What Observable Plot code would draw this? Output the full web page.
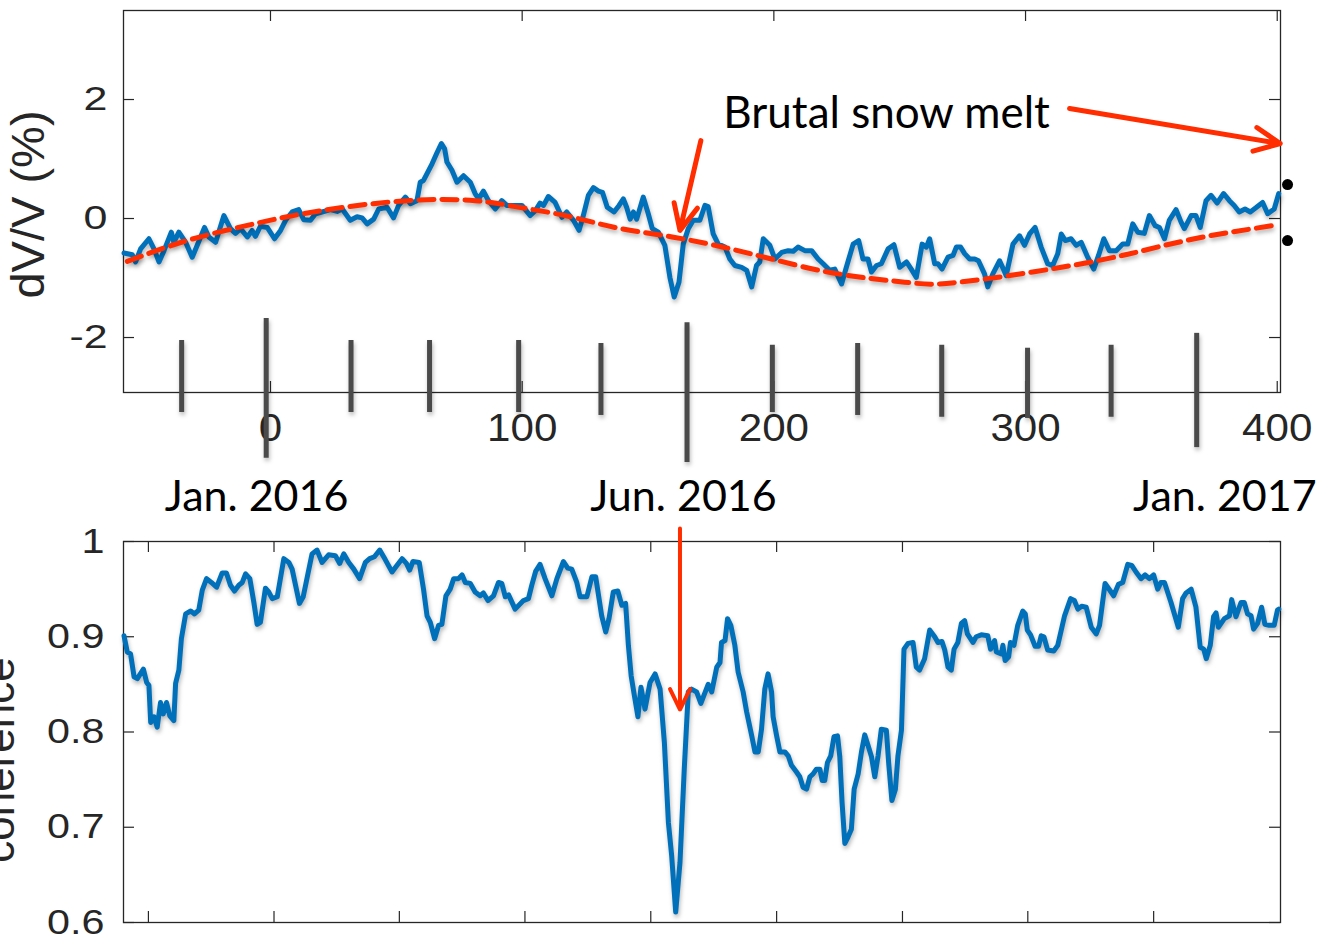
<!DOCTYPE html>
<html>
<head>
<meta charset="utf-8">
<script src="https://cdn.jsdelivr.net/npm/d3@7"></script>
<script src="https://cdn.jsdelivr.net/npm/@observablehq/plot@0.6"></script>
<style>
  body { margin: 0; background: #ffffff; }
  #chart { width: 1318px; height: 935px; overflow: hidden; position: relative; }
  #chart svg { display: block; }
</style>
</head>
<body>
<div id="chart"></div>
<script>
// ---------- top panel: dV/V (%) ----------
const dvvDay = [-58.2,-54.9,-53.6,-51.6,-48.3,-46.3,-44.3,-42.3,-39.4,-38.4,-36.4,-33.7,-31.1,-29.1,-26.2,-24.5,-21.8,-18.5,-15.9,-13.9,-11.9,-9.2,-7.3,-6.0,-4.0,-1.3,1.6,4.0,6.0,8.6,11.2,13.2,15.9,17.9,20.5,23.8,26.5,28.5,31.7,34.4,36.4,38.4,41.0,43.0,46.3,48.9,50.9,53.6,55.6,58.2,59.5,60.8,64.2,66.2,67.9,69.2,70.1,72.1,74.1,76.7,79.4,81.3,82.7,84.6,86.6,89.3,91.9,93.9,97.2,99.9,103.2,105.2,107.1,108.5,110.4,113.1,115.8,117.7,120.4,122.6,124.3,126.3,128.3,130.3,131.9,133.8,136.5,138.5,140.2,141.5,142.9,144.2,145.5,148.1,150.1,151.7,154.1,156.7,158.7,160.4,162.3,164.0,166.0,168.0,170.6,172.6,173.9,175.9,177.9,180.6,182.5,184.5,187.2,189.2,191.2,193.1,194.4,195.8,198.4,200.4,203.1,205.7,207.7,209.6,212.3,215.0,217.6,219.6,222.2,224.2,226.9,228.8,231.5,233.7,235.4,237.4,238.8,240.8,242.7,245.4,247.7,250.0,252.7,254.6,256.6,258.9,260.6,261.9,263.9,265.2,266.8,269.2,271.2,272.5,274.2,275.8,277.8,279.8,281.3,283.7,285.0,287.0,289.7,291.7,292.3,295.0,297.6,299.6,301.6,303.8,306.2,308.8,310.8,312.8,314.2,315.8,318.1,320.1,322.1,324.7,327.1,329.0,331.1,333.3,336.0,338.6,340.6,342.6,344.6,347.2,349.2,351.5,353.2,355.2,357.1,359.8,361.8,363.1,365.8,367.7,369.4,371.7,373.7,376.1,378.7,381.0,382.9,384.9,387.2,389.3,391.5,394.2,396.2,398.8,400.6];
const dvvPct = [-0.58,-0.61,-0.73,-0.51,-0.34,-0.51,-0.73,-0.54,-0.23,-0.40,-0.23,-0.40,-0.65,-0.45,-0.15,-0.31,-0.40,0.05,-0.17,-0.25,-0.17,-0.31,-0.20,-0.30,-0.13,-0.15,-0.34,-0.20,-0.03,0.11,0.15,-0.02,-0.03,0.08,0.11,0.15,0.12,0.16,-0.03,0.03,0.01,-0.09,-0.01,0.16,0.19,0.01,0.22,0.36,0.25,0.30,0.61,0.64,0.92,1.11,1.26,1.17,0.95,0.81,0.61,0.72,0.61,0.42,0.33,0.46,0.30,0.16,0.30,0.22,0.22,0.22,0.05,0.13,0.26,0.22,0.37,0.27,0.02,0.11,-0.03,-0.20,0.05,0.39,0.52,0.46,0.44,0.19,0.11,0.22,0.33,0.19,-0.01,0.11,-0.01,0.36,0.08,-0.17,-0.23,-0.45,-0.99,-1.32,-1.07,-0.43,-0.17,-0.03,-0.03,0.22,0.20,-0.26,-0.43,-0.48,-0.68,-0.79,-0.82,-0.87,-1.15,-0.79,-0.73,-0.34,-0.45,-0.68,-0.57,-0.54,-0.55,-0.48,-0.54,-0.54,-0.68,-0.76,-0.87,-0.85,-1.10,-0.82,-0.43,-0.37,-0.68,-0.68,-0.90,-0.79,-0.76,-0.51,-0.44,-0.82,-0.73,-0.85,-0.99,-0.43,-0.48,-0.34,-0.76,-0.76,-0.85,-0.65,-0.62,-0.48,-0.48,-0.59,-0.68,-0.68,-0.71,-0.93,-1.15,-0.93,-0.71,-0.90,-0.96,-0.43,-0.29,-0.45,-0.26,-0.15,-0.48,-0.76,-0.79,-0.59,-0.26,-0.37,-0.34,-0.45,-0.40,-0.65,-0.85,-0.62,-0.34,-0.54,-0.54,-0.43,-0.43,-0.09,-0.23,-0.25,0.05,-0.12,-0.15,-0.34,-0.03,0.15,-0.06,-0.17,0.05,0.05,-0.15,0.30,0.39,0.26,0.42,0.30,0.22,0.11,0.16,0.11,0.18,0.27,0.08,0.16,0.42];

// seasonal fit (red dashed)
const fitDay = [-56.9,-33.1,-6.6,19.8,54.2,81.3,97.2,117.1,136.9,156.7,176.6,199.1,225.5,252.0,265.2,285.0,314.2,340.6,367.1,398.1];
const fitPct = [-0.72,-0.37,-0.09,0.13,0.30,0.30,0.20,0.05,-0.15,-0.29,-0.45,-0.68,-0.93,-1.07,-1.10,-1.01,-0.82,-0.60,-0.34,-0.12];

// month marker bars (gray), long bars = Jan 2016, Jun 2016, Jan 2017
const monthDay    = [-35.3,-1.7,32.0,63.2,98.6,131.3,165.5,199.4,233.3,266.7,300.8,334.0,368.0];
const monthTop    = [-2.05,-1.68,-2.05,-2.05,-2.05,-2.10,-1.75,-2.13,-2.10,-2.13,-2.18,-2.13,-1.93];
const monthBottom = [-3.26,-4.03,-3.26,-3.26,-3.26,-3.31,-4.10,-3.26,-3.31,-3.34,-3.36,-3.34,-3.85];

// black dots at the right edge
const dotDay = [404.1, 404.1];
const dotPct = [0.57, -0.37];

// axis ticks
const xTicksTop = [0, 100, 200, 300, 400];
const yTicksTop = [-2, 0, 2];

// annotations (top)
const noteText = ["Brutal snow melt"];
const noteDay = [244.8];
const notePct = [1.76];
const arrowTop = [
  {x1: 317.5, y1: 1.85, x2: 401.2, y2: 1.26},
  {x1: 171.0, y1: 1.31, x2: 162.7, y2: -0.20}
];

// ---------- bottom panel: coherence ----------
const cohDay = [-58.2,-56.9,-55.6,-54.2,-52.9,-50.5,-49.2,-48.3,-47.6,-46.3,-45.0,-43.7,-42.6,-41.3,-40.0,-38.4,-37.7,-36.4,-35.4,-33.7,-31.7,-30.2,-28.5,-27.1,-25.4,-23.5,-21.4,-19.2,-17.5,-15.9,-14.3,-12.6,-11.2,-9.9,-8.2,-6.6,-5.3,-4.0,-2.0,-0.7,0.7,2.7,5.3,7.3,8.6,11.5,13.0,16.5,18.5,20.5,23.1,25.8,27.5,29.1,31.1,33.1,35.4,37.7,39.4,41.3,43.4,45.6,48.3,50.3,52.3,54.0,55.3,56.6,59.1,60.8,62.2,63.5,65.2,66.8,68.1,69.7,71.4,72.8,74.7,76.1,77.4,79.4,81.3,83.3,84.6,86.4,88.6,90.6,91.9,93.3,94.6,97.2,100.5,102.5,103.8,105.4,107.1,109.1,111.8,113.8,116.4,118.1,119.7,121.7,123.0,125.7,127.7,129.2,131.6,133.2,134.5,136.2,138.0,139.6,141.1,142.2,143.3,144.6,146.0,147.2,148.8,150.8,152.8,154.8,156.5,158.1,159.4,161.0,162.7,164.4,166.0,167.3,169.3,171.0,173.9,175.3,177.3,178.6,179.2,180.6,181.6,182.9,184.5,185.8,187.8,189.2,191.2,192.5,193.8,195.1,196.4,197.7,199.1,199.7,201.1,202.4,204.4,205.7,207.0,209.0,210.3,211.6,213.0,214.3,215.6,216.9,218.3,219.2,220.2,221.3,222.6,223.9,225.3,226.2,227.1,228.2,229.5,230.8,231.9,233.5,234.8,236.1,237.4,238.8,240.1,241.4,242.7,244.7,245.6,246.9,248.3,249.3,250.7,251.7,253.3,255.3,256.6,257.9,259.9,261.9,263.9,265.2,266.8,267.9,269.2,270.5,271.6,273.1,274.5,275.8,276.9,279.1,280.4,282.4,285.0,286.1,287.7,288.4,290.4,291.0,291.9,293.3,294.0,295.4,296.9,298.9,299.9,300.7,302.0,303.8,305.2,306.2,307.3,308.8,311.2,312.8,315.5,317.9,319.4,320.8,322.3,324.1,326.1,328.1,329.4,331.6,333.7,335.0,336.9,338.6,340.6,342.2,343.9,345.9,347.5,349.2,350.9,352.5,353.8,355.2,357.8,360.7,362.4,363.8,365.8,367.7,369.4,370.8,371.8,373.4,374.7,375.7,376.6,379.0,381.0,381.9,383.6,385.6,386.9,388.2,389.6,390.6,392.2,393.8,395.1,396.8,398.8,400.1,400.6];
const cohValue = [0.901,0.884,0.882,0.858,0.856,0.866,0.852,0.849,0.810,0.816,0.805,0.831,0.819,0.831,0.817,0.812,0.851,0.865,0.898,0.924,0.927,0.924,0.928,0.949,0.961,0.957,0.952,0.967,0.967,0.954,0.948,0.954,0.957,0.966,0.961,0.936,0.913,0.915,0.951,0.947,0.940,0.942,0.982,0.978,0.971,0.935,0.942,0.987,0.991,0.978,0.986,0.985,0.977,0.987,0.978,0.971,0.961,0.978,0.982,0.984,0.991,0.981,0.968,0.975,0.982,0.977,0.970,0.979,0.978,0.950,0.922,0.915,0.898,0.912,0.913,0.943,0.950,0.961,0.961,0.965,0.957,0.956,0.947,0.943,0.946,0.938,0.943,0.957,0.956,0.942,0.944,0.929,0.938,0.940,0.954,0.969,0.976,0.961,0.943,0.961,0.979,0.972,0.971,0.957,0.942,0.942,0.963,0.963,0.922,0.905,0.919,0.947,0.948,0.933,0.935,0.891,0.859,0.838,0.816,0.847,0.824,0.852,0.861,0.845,0.789,0.705,0.670,0.611,0.663,0.761,0.842,0.845,0.842,0.830,0.850,0.842,0.868,0.873,0.894,0.896,0.919,0.912,0.891,0.863,0.842,0.821,0.796,0.779,0.779,0.803,0.845,0.861,0.842,0.816,0.796,0.779,0.779,0.775,0.765,0.758,0.753,0.742,0.740,0.753,0.756,0.761,0.761,0.749,0.749,0.768,0.775,0.795,0.796,0.774,0.726,0.683,0.690,0.698,0.740,0.756,0.779,0.797,0.786,0.774,0.753,0.775,0.803,0.802,0.768,0.728,0.740,0.775,0.802,0.887,0.893,0.894,0.868,0.865,0.877,0.907,0.900,0.894,0.895,0.886,0.868,0.865,0.887,0.894,0.914,0.917,0.903,0.894,0.900,0.902,0.901,0.887,0.896,0.884,0.882,0.891,0.875,0.879,0.894,0.891,0.912,0.927,0.924,0.907,0.902,0.890,0.890,0.901,0.900,0.886,0.885,0.891,0.922,0.940,0.938,0.929,0.932,0.931,0.910,0.903,0.912,0.956,0.948,0.943,0.955,0.957,0.976,0.975,0.968,0.961,0.965,0.961,0.965,0.950,0.957,0.957,0.936,0.910,0.940,0.946,0.950,0.931,0.889,0.887,0.877,0.891,0.921,0.925,0.910,0.919,0.922,0.939,0.921,0.936,0.936,0.924,0.922,0.908,0.914,0.931,0.913,0.912,0.912,0.928,0.929];

const xTicksBottom = [-48.5, 1.4, 51.2, 101.1, 151.1, 201.1, 251.1, 300.9, 350.9];
const yTicksBottom = [0.6, 0.7, 0.8, 0.9, 1];

// date labels between panels and the bottom arrow
const dateText = ["Jan. 2016", "Jun. 2016", "Jan. 2017"];
const dateDay = [-5.5, 164.1, 379.2];
const dateLevel = [1.046, 1.046, 1.046];
const arrowBottom = [{x1: 162.7, y1: 1.0136, x2: 162.7, y2: 0.8236}];

// ---------- build ----------
const W = 1318, ML = 123, MR = 38;
const xDomain = [-58.4, 401.3];
const BLUE = "#0070BA", RED = "#FF2D00", AXIS = "#262626", BAR = "#4a4a4a";
const SANS = "'Liberation Sans', Arial, Helvetica, sans-serif";
const NOTE = "Lato, 'Open Sans', sans-serif";

const dvv = dvvDay.map((d, i) => ({day: d, v: dvvPct[i]}));
const fit = fitDay.map((d, i) => ({day: d, v: fitPct[i]}));
const months = monthDay.map((d, i) => ({day: d, y1: monthTop[i], y2: monthBottom[i]}));
const dots = dotDay.map((d, i) => ({day: d, v: dotPct[i]}));
const notes = noteText.map((t, i) => ({t, day: noteDay[i], v: notePct[i]}));
const coh = cohDay.map((d, i) => ({day: d, v: cohValue[i]}));
const dates = dateText.map((t, i) => ({t, day: dateDay[i], v: dateLevel[i]}));

const H1 = 470, MT1 = 10, MB1 = 78;
const fh1 = H1 - MT1 - MB1, fw = W - ML - MR;

const topPlot = Plot.plot({
  width: W, height: H1, marginLeft: ML, marginRight: MR, marginTop: MT1, marginBottom: MB1,
  x: {domain: xDomain},
  y: {domain: [-2.924, 3.496]},
  style: {fontFamily: SANS, background: "transparent", overflow: "visible", color: AXIS},
  marks: [
    Plot.frame({stroke: AXIS, strokeWidth: 1.3}),
    Plot.ruleY(yTicksTop, {insetRight: fw - 11, stroke: AXIS, strokeWidth: 1.2}),
    Plot.ruleY(yTicksTop, {insetLeft: fw - 11, stroke: AXIS, strokeWidth: 1.2}),
    Plot.ruleX(xTicksTop, {insetBottom: fh1 - 11, stroke: AXIS, strokeWidth: 1.2}),
    Plot.ruleX(xTicksTop, {insetTop: fh1 - 11, stroke: AXIS, strokeWidth: 1.2}),
    Plot.axisY({ticks: yTicksTop, tickSize: 0, tickPadding: 16, fontSize: 33, label: null, tickFormat: d => String(d), fill: AXIS}),
    Plot.axisX({ticks: xTicksTop, tickSize: 0, tickPadding: 21, fontSize: 39, label: null, tickFormat: d => String(d), fill: AXIS}),
    Plot.text(["dV/V (%)"], {frameAnchor: "left", textAnchor: "middle", lineAnchor: "middle", dx: -95, dy: 3, rotate: -90, fontSize: 47, fill: AXIS}),
    Plot.line(dvv, {x: "day", y: "v", stroke: BLUE, strokeWidth: 5, strokeLinejoin: "round"}),
    Plot.line(fit, {x: "day", y: "v", stroke: RED, strokeWidth: 5, strokeDasharray: "15,8", curve: "natural"}),
    Plot.ruleX(months, {x: "day", y1: "y1", y2: "y2", stroke: BAR, strokeWidth: 5}),
    Plot.dot(dots, {x: "day", y: "v", r: 5.5, fill: "black", stroke: "none"}),
    Plot.text(notes, {x: "day", y: "v", text: "t", fontSize: 44, fontFamily: NOTE, fill: "black"}),
    Plot.arrow(arrowTop, {x1: "x1", y1: "y1", x2: "x2", y2: "y2", stroke: RED, strokeWidth: 5, headAngle: 50, headLength: 8.5})
  ]
});

const H2 = 465, MT2 = 71, MB2 = 13;
const fh2 = H2 - MT2 - MB2;

const bottomPlot = Plot.plot({
  width: W, height: H2, marginLeft: ML, marginRight: MR, marginTop: MT2, marginBottom: MB2,
  x: {domain: xDomain, axis: null},
  y: {domain: [0.6, 1]},
  style: {fontFamily: SANS, background: "transparent", overflow: "visible", color: AXIS},
  marks: [
    Plot.frame({stroke: AXIS, strokeWidth: 1.3}),
    Plot.ruleY(yTicksBottom, {insetRight: fw - 11, stroke: AXIS, strokeWidth: 1.2}),
    Plot.ruleY(yTicksBottom, {insetLeft: fw - 11, stroke: AXIS, strokeWidth: 1.2}),
    Plot.ruleX(xTicksBottom, {insetBottom: fh2 - 11, stroke: AXIS, strokeWidth: 1.2}),
    Plot.ruleX(xTicksBottom, {insetTop: fh2 - 11, stroke: AXIS, strokeWidth: 1.2}),
    Plot.axisY({ticks: yTicksBottom, tickSize: 0, tickPadding: 19, fontSize: 35, label: null, tickFormat: d => String(d), fill: AXIS}),
    Plot.text(["coherence"], {frameAnchor: "left", textAnchor: "middle", lineAnchor: "middle", dx: -124, dy: 28, rotate: -90, fontSize: 44, fill: AXIS}),
    Plot.line(coh, {x: "day", y: "v", stroke: BLUE, strokeWidth: 5, strokeLinejoin: "round"}),
    Plot.text(dates, {x: "day", y: "v", text: "t", fontSize: 43, fontFamily: NOTE, fill: "black"}),
    Plot.arrow(arrowBottom, {x1: "x1", y1: "y1", x2: "x2", y2: "y2", stroke: RED, strokeWidth: 4, headAngle: 52, headLength: 8.5})
  ]
});

const chart = document.getElementById("chart");
chart.append(topPlot, bottomPlot);

// the original MATLAB figure is stretched horizontally: widen the tick labels
function stretch(svg, label, k) {
  svg.querySelectorAll(`g[aria-label="${label}"] text`).forEach(t => {
    const L = t.getComputedTextLength();
    if (L > 0) {
      t.setAttribute("textLength", (L * k).toFixed(1));
      t.setAttribute("lengthAdjust", "spacingAndGlyphs");
    }
  });
}
stretch(topPlot, "y-axis tick label", 1.3);
stretch(topPlot, "x-axis tick label", 1.08);
stretch(bottomPlot, "y-axis tick label", 1.18);

// soft drop shadow like the original figure (curves and month bars)
for (const svg of [topPlot, bottomPlot]) {
  svg.querySelectorAll('g[aria-label="line"]').forEach(g => {
    g.style.filter = "drop-shadow(1px 3px 2px rgba(0,0,0,0.28))";
  });
  svg.querySelectorAll('g[aria-label="rule"]').forEach(g => {
    if (g.getAttribute("stroke") === BAR) g.style.filter = "drop-shadow(1px 3px 2px rgba(0,0,0,0.28))";
  });
}
</script>
</body>
</html>
